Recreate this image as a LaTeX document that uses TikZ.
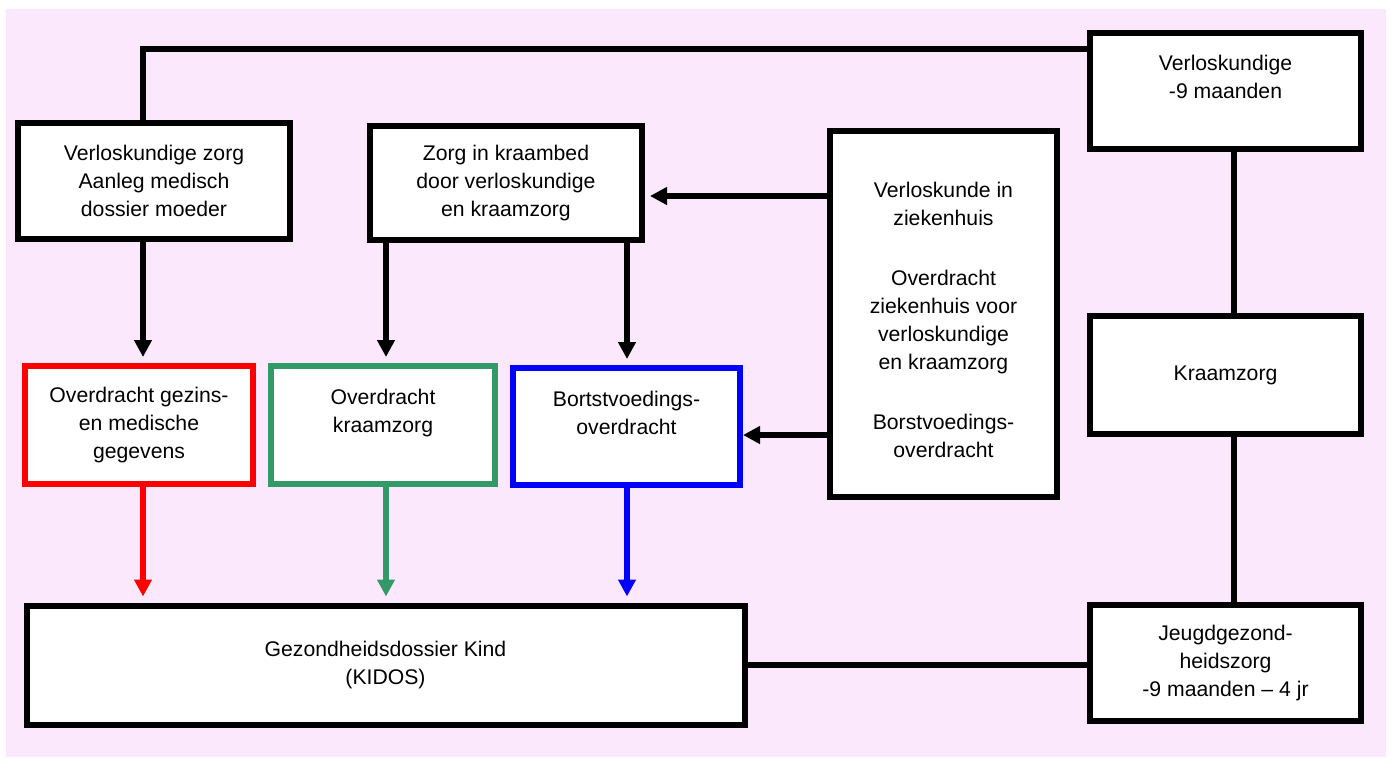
\documentclass[tikz,border=0pt]{standalone}
\usepackage{fontspec}
\setmainfont{Liberation Sans}
\usetikzlibrary{arrows.meta}
\definecolor{pinkbg}{RGB}{252,232,252}
\definecolor{kzgreen}{RGB}{51,153,102}
\tikzset{
  box/.style={draw, line width=3pt, fill=white, align=center, inner sep=0pt,
    font=\fontsize{10.6}{14}\selectfont},
  arr/.style={line width=3pt, -{Triangle[width=8.5pt,length=8.5pt]}, shorten >=3pt},
  link/.style={line width=3pt}
}
\begin{document}
\begin{tikzpicture}[x=0.5pt,y=-0.5pt]
  \useasboundingbox (0,0) rectangle (1390,757);
  \fill[pinkbg] (6,9) rectangle (1386,757); % background

  % upper boxes
  \node[box, minimum width=136pt, minimum height=58pt] (zorg) at (154,181)
    {Verloskundige zorg\\Aanleg medisch\\dossier moeder};
  \node[box, minimum width=136pt, minimum height=57pt] (kraambed) at (506,183)
    {Zorg in kraambed\\door verloskundige\\en kraamzorg};
  \node[box, minimum width=113.5pt, minimum height=183pt] (zkh) at (943.5,314)
    {\rule{0pt}{14pt}Verloskunde in\\ziekenhuis\\[16pt]Overdracht\\ziekenhuis voor\\verloskundige\\en kraamzorg\\[16pt]Borstvoedings-\\overdracht};

  % right column
  \node[box, minimum width=135.5pt, minimum height=58pt] (vk) at (1225.5,91)
    {Verloskundige\\-9 maanden\\~};
  \node[box, minimum width=135.5pt, minimum height=59pt] (kz) at (1225.5,375) {Kraamzorg};
  \node[box, minimum width=135.5pt, minimum height=58pt] (jgz) at (1225.5,663)
    {Jeugdgezond-\\heidszorg\\-9 maanden -- 4 jr};

  % overdrachten
  \node[box, draw=red, minimum width=114pt, minimum height=59pt] (gezin) at (139,425)
    {Overdracht gezins-\\en medische\\gegevens};
  \node[box, draw=kzgreen, minimum width=112pt, minimum height=59pt] (ovkz) at (383,425)
    {Overdracht\\kraamzorg\\~};
  \node[box, draw=blue, minimum width=113.5pt, minimum height=58.5pt] (borst) at (626.5,426.5)
    {Bortstvoedings-\\overdracht\\~};

  % dossier
  \node[box, minimum width=359pt, minimum height=59.5pt] (kidos) at (385.5,665)
    {Gezondheidsdossier Kind\\(KIDOS)};

  % columns and rows for the connectors
  \coordinate (c1) at (143,49);
  \coordinate (c2) at (386,0);
  \coordinate (c3) at (627,0);
  \coordinate (c4) at (1234,0);
  \coordinate (r1) at (0,196);
  \coordinate (r2) at (0,435);

  \draw[link] (zorg.north -| c1) |- (vk.west |- c1); % top line
  \draw[link] (vk.south -| c4) -- (kz.north -| c4);
  \draw[link] (kz.south -| c4) -- (jgz.north -| c4);
  \draw[link] (kidos.east) -- (jgz.west |- kidos.east);

  \draw[arr] (zorg.south -| c1) -- (gezin.north -| c1);
  \draw[arr] (kraambed.south -| c2) -- (ovkz.north -| c2);
  \draw[arr] (kraambed.south -| c3) -- (borst.north -| c3);
  \draw[arr, shorten >=2.5pt] (zkh.west |- r1) -- (kraambed.east |- r1);
  \draw[arr, shorten >=0pt] (zkh.west |- r2) -- (borst.east |- r2);

  \draw[arr, red] (gezin.south -| c1) -- (kidos.north -| c1);
  \draw[arr, kzgreen] (ovkz.south -| c2) -- (kidos.north -| c2);
  \draw[arr, blue] (borst.south -| c3) -- (kidos.north -| c3);
\end{tikzpicture}
\end{document}
